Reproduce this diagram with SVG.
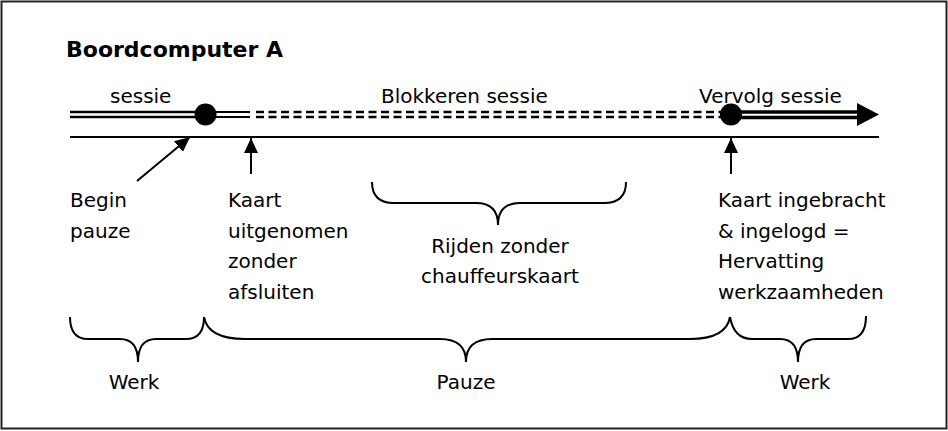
<svg xmlns="http://www.w3.org/2000/svg" width="948" height="431" viewBox="0 0 948 431">
<style>
text{font-family:"DejaVu Sans",Verdana,sans-serif;font-size:20px;fill:#000}
.title{font-weight:bold;font-size:22px}
.ln{stroke:#000;fill:none}
.brace{stroke:#000;fill:none;stroke-width:2}
.mid{text-anchor:middle}
</style>
<defs>
<marker id="ah" viewBox="0 0 15 14" refX="15" refY="7" markerWidth="15" markerHeight="14" markerUnits="userSpaceOnUse" orient="auto">
<path d="M0,0 L15,7 L0,14 z" fill="#000"/>
</marker>
</defs>
<rect x="1.5" y="1.5" width="945" height="427" fill="#fff" stroke="#222" stroke-width="2"/>
<text class="title" x="66" y="57">Boordcomputer A</text>
<g id="timeline">
<line class="ln" x1="70" y1="137" x2="879" y2="137" stroke-width="2.2"/>
</g>
<g id="connectors">
<line class="ln" x1="70" y1="112" x2="206" y2="112" stroke-width="2.5"/>
<line class="ln" x1="70" y1="117" x2="206" y2="117" stroke-width="2.5"/>
<line class="ln" x1="206" y1="112" x2="250" y2="112" stroke-width="2"/>
<line class="ln" x1="206" y1="117" x2="250" y2="117" stroke-width="2"/>
<line class="ln" x1="256" y1="112" x2="722" y2="112" stroke-width="2.5" stroke-dasharray="8 4.5"/>
<line class="ln" x1="256" y1="117" x2="722" y2="117" stroke-width="2.5" stroke-dasharray="8 4.5"/>
<line class="ln" x1="731" y1="112" x2="858" y2="112" stroke-width="3.5"/>
<line class="ln" x1="731" y1="117.5" x2="858" y2="117.5" stroke-width="3.5"/>
<polygon points="857,103 879,114.5 857,126" fill="#000"/>
<line class="ln" x1="137" y1="181" x2="190" y2="137" stroke-width="2" marker-end="url(#ah)"/>
<line class="ln" x1="251" y1="174" x2="251" y2="138" stroke-width="2" marker-end="url(#ah)"/>
<line class="ln" x1="731" y1="174" x2="731" y2="138" stroke-width="2" marker-end="url(#ah)"/>
</g>
<g id="begin-session">
<circle cx="205.5" cy="114.5" r="11" fill="#000"/>
</g>
<g id="resume-session">
<circle cx="731" cy="114.5" r="11" fill="#000"/>
</g>
<g id="labels-top">
<text x="110" y="103">sessie</text>
<text x="381" y="103">Blokkeren sessie</text>
<text x="699" y="103">Vervolg sessie</text>
</g>
<g id="begin-pauze">
<text x="70" y="207">Begin</text>
<text x="70" y="238">pauze</text>
</g>
<g id="kaart-uit">
<text x="228" y="207">Kaart</text>
<text x="228" y="238">uitgenomen</text>
<text x="228" y="268">zonder</text>
<text x="228" y="299">afsluiten</text>
</g>
<g id="rijden">
<path class="brace" d="M372,182 Q372,203 394,203 L476,203 Q498,203 498,225 Q498,203 520,203 L604,203 Q626,203 626,182"/>
<text class="mid" x="500" y="253">Rijden zonder</text>
<text class="mid" x="500" y="283">chauffeurskaart</text>
</g>
<g id="kaart-in">
<text x="718" y="207">Kaart ingebracht</text>
<text x="718" y="238">&amp; ingelogd =</text>
<text x="718" y="268">Hervatting</text>
<text x="718" y="299">werkzaamheden</text>
</g>
<g id="werk1">
<path class="brace" d="M70,317 Q70,339 88,339 L120,339 Q138,339 138,362 Q138,339 156,339 L186,339 Q204,339 204,317"/>
<text class="mid" x="134" y="389">Werk</text>
</g>
<g id="pauze">
<path class="brace" d="M204,317 Q208,339 245,339 L440,339 Q466,339 466,362 Q466,339 492,339 L690,339 Q726,339 730,317"/>
<text class="mid" x="466" y="389">Pauze</text>
</g>
<g id="werk2">
<path class="brace" d="M730,317 Q734,339 752,339 L780,339 Q798,339 798,362 Q798,339 816,339 L848,339 Q866,339 866,316"/>
<text class="mid" x="805" y="389">Werk</text>
</g>
</svg>
